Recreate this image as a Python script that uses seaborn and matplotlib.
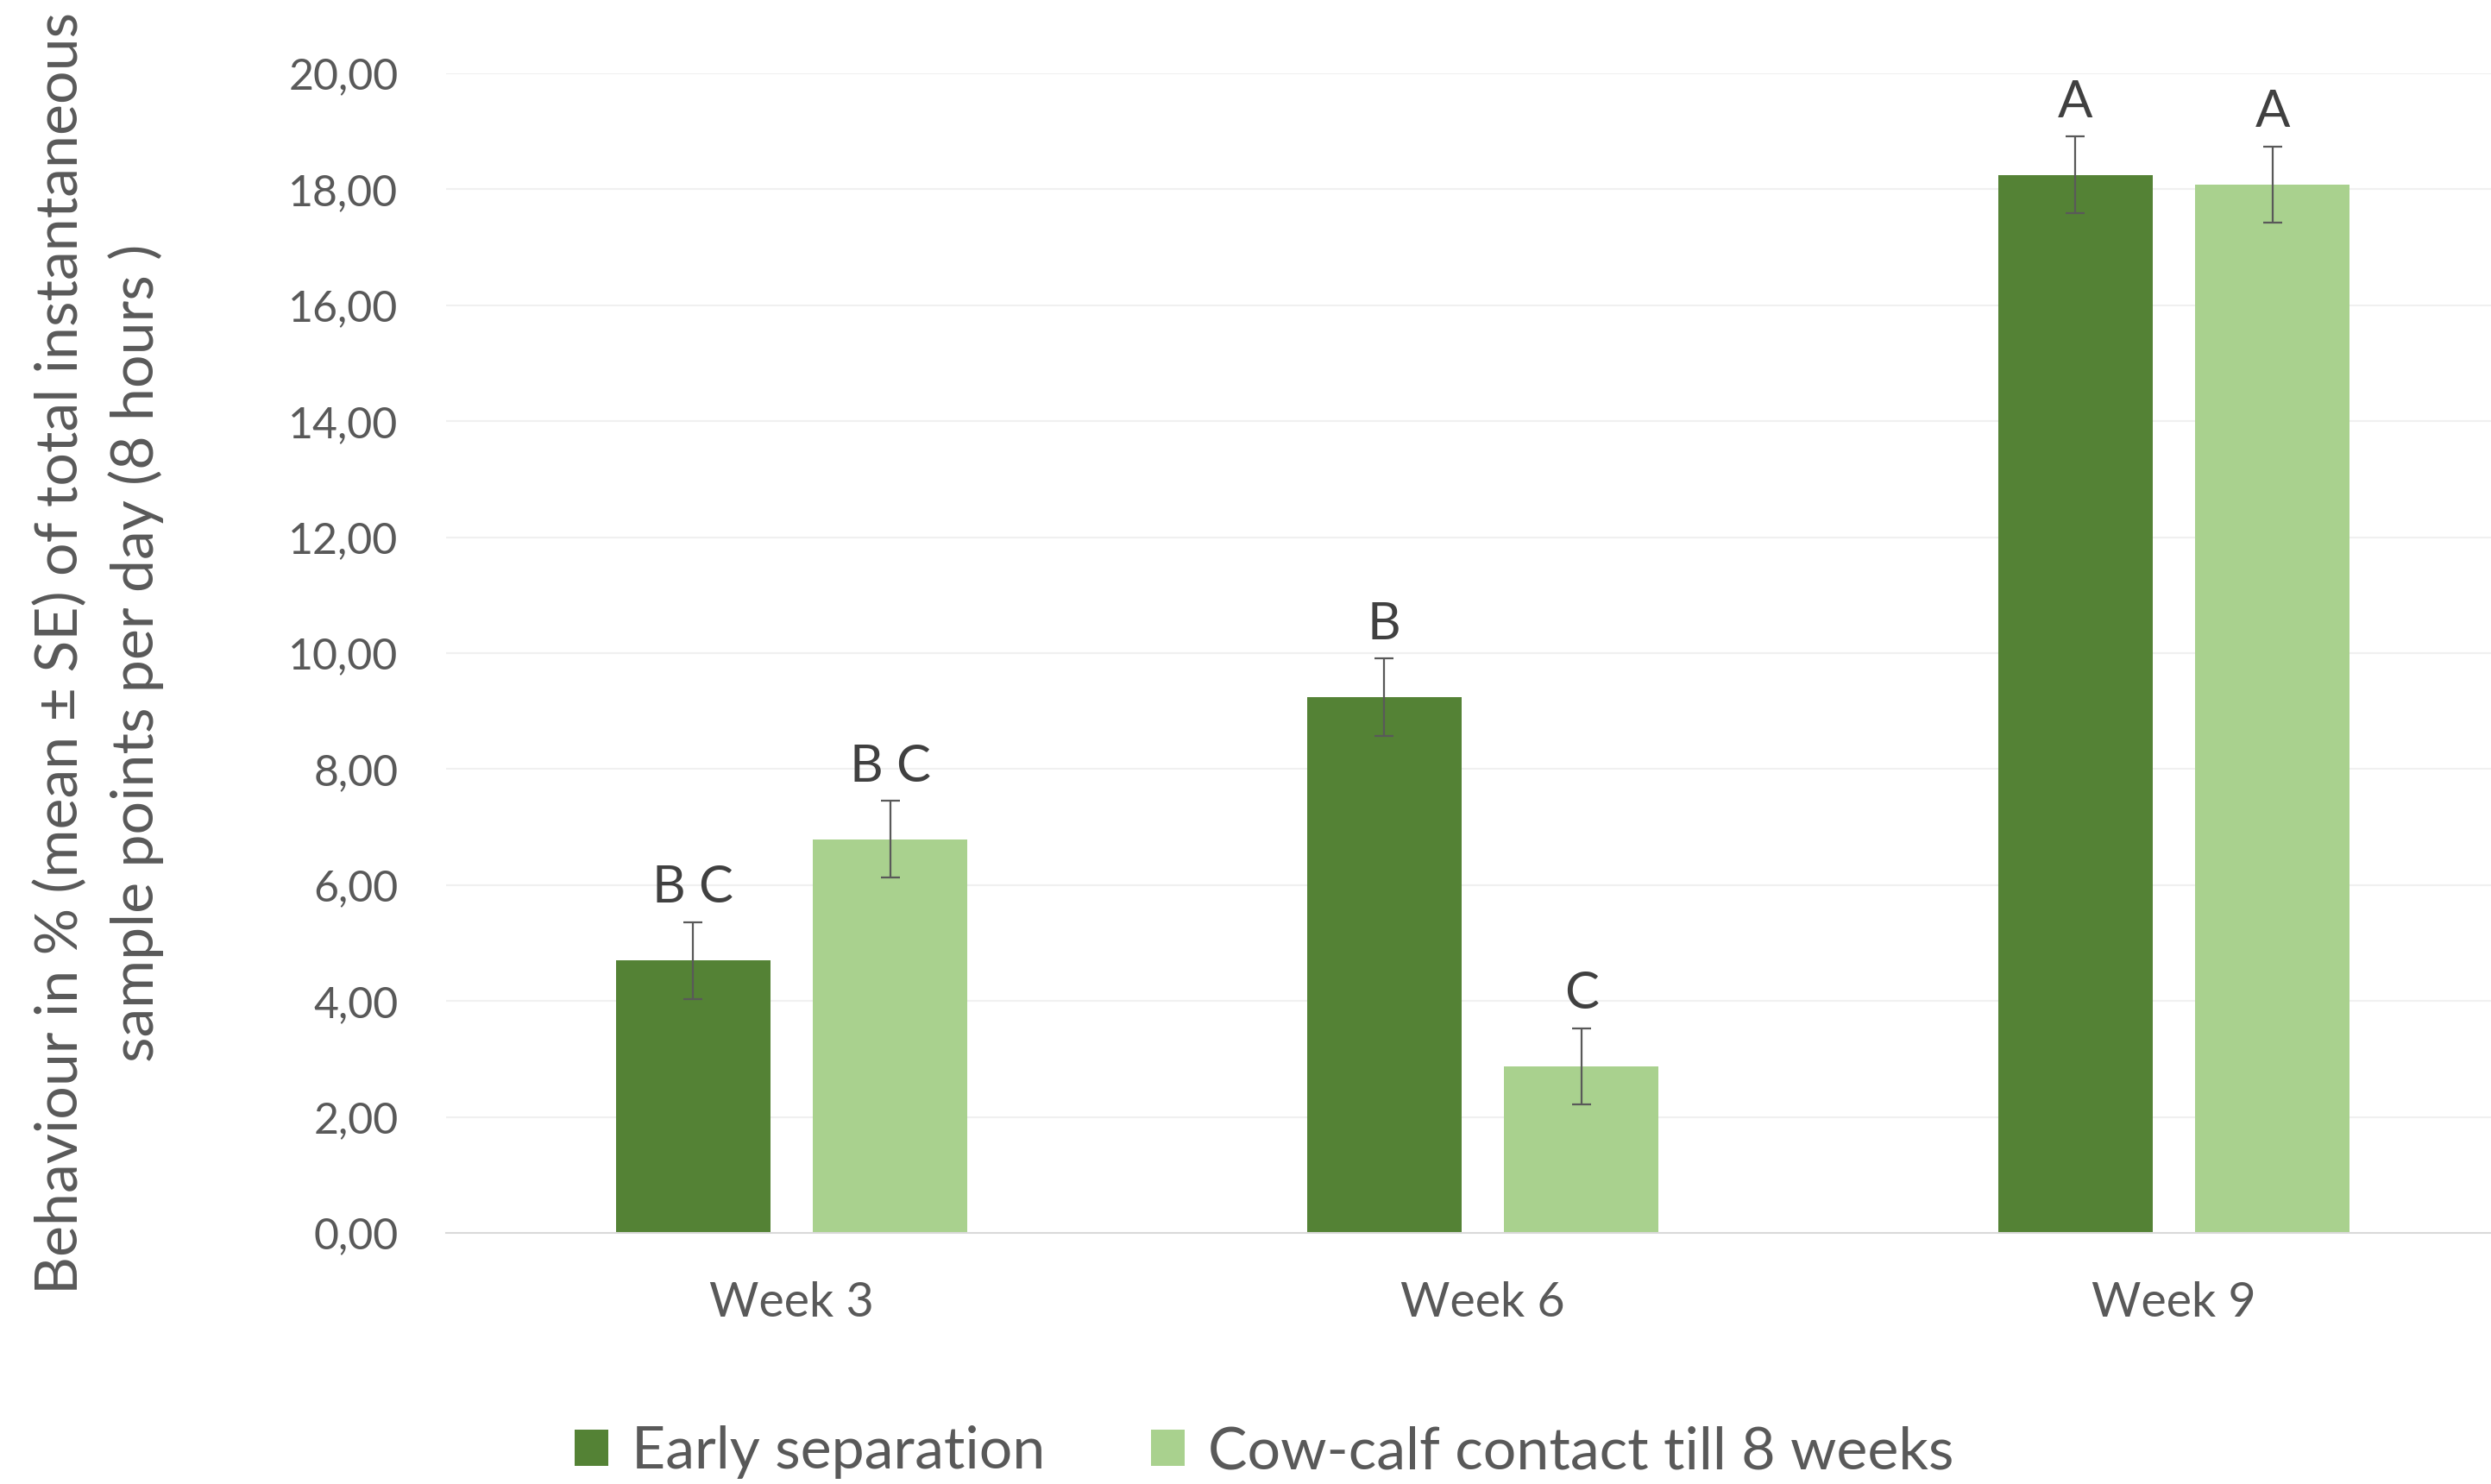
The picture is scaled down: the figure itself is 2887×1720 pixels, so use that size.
import numpy as np
import pandas as pd
import matplotlib
matplotlib.use("Agg")
import matplotlib.pyplot as plt
import seaborn as sns
from matplotlib.ticker import FuncFormatter, MultipleLocator

# ---------------------------------------------------------------
# data
# ---------------------------------------------------------------
weeks = ["Week 3", "Week 6", "Week 9"]
groups = ["Early separation", "Cow-calf contact till 8 weeks"]
early_mean = [4.70, 9.24, 18.25]
cow_mean = [6.79, 2.87, 18.08]
early_se = [0.66, 0.67, 0.66]
cow_se = [0.66, 0.66, 0.66]
early_letters = ["B C", "B", "A"]
cow_letters = ["B C", "C", "A"]

colors = ["#548235", "#A9D18E"]
ylabel = ("Behaviour in % (mean \u00b1 SE) of total instantaneous\n"
          "sample points per day (8 hours )")

df = pd.DataFrame({
    "week": weeks * 2,
    "group": [groups[0]] * 3 + [groups[1]] * 3,
    "value": early_mean + cow_mean,
})

# ---------------------------------------------------------------
# plot
# ---------------------------------------------------------------
sns.set_style("white")
plt.rcParams["font.family"] = ["Lato", "DejaVu Sans"]

fig = plt.figure(figsize=(28.87, 17.2), dpi=100)
ax = fig.add_axes([517 / 2887, 291 / 1720, 2403 / 2887, 1344 / 1720])

sns.barplot(data=df, x="week", y="value", hue="group", palette=colors,
            width=0.57, gap=0.218, errorbar=None, saturation=1,
            linewidth=0, ax=ax)

# error bars + significance letters
for cont, se, letters in zip(ax.containers, [early_se, cow_se],
                             [early_letters, cow_letters]):
    xs = [b.get_x() + b.get_width() / 2 for b in cont]
    ys = [b.get_height() for b in cont]
    ax.errorbar(xs, ys, yerr=se, fmt="none", ecolor="#595959",
                elinewidth=1.6, capsize=8, capthick=1.6, zorder=5)
    for x, y, s, lab in zip(xs, ys, se, letters):
        ax.annotate(lab, (x, y + s), xytext=(0, 9), textcoords="offset points",
                    ha="center", va="bottom", fontsize=43, color="#404040")

ax.set_ylim(0, 20)
ax.set_xlim(-0.5, 2.5)
ax.yaxis.set_major_locator(MultipleLocator(2))
ax.yaxis.set_major_formatter(FuncFormatter(lambda v, _: f"{v:.2f}".replace(".", ",")))
ax.grid(axis="y", color="#F0F0F0", linewidth=1.5)
ax.set_axisbelow(True)

for side in ["top", "right", "left"]:
    ax.spines[side].set_visible(False)
ax.spines["bottom"].set_color("#D9D9D9")
ax.spines["bottom"].set_linewidth(1.5)

ax.tick_params(axis="y", length=0, pad=40, labelsize=36, labelcolor="#595959")
ax.tick_params(axis="x", length=0, pad=40, labelsize=40, labelcolor="#595959")

ax.set_xlabel("")
ax.set_ylabel(ylabel, fontsize=49, color="#595959", linespacing=1.45)
ax.yaxis.set_label_coords(-0.136, 0.5)

sns.move_legend(ax, "center", bbox_to_anchor=(0.3945, -0.189), ncol=2,
                frameon=False, title=None, fontsize=49,
                handlelength=0.57, handleheight=0.57, handletextpad=0.4,
                columnspacing=1.8, labelcolor="#595959")

fig.savefig("out.png", dpi=100)
